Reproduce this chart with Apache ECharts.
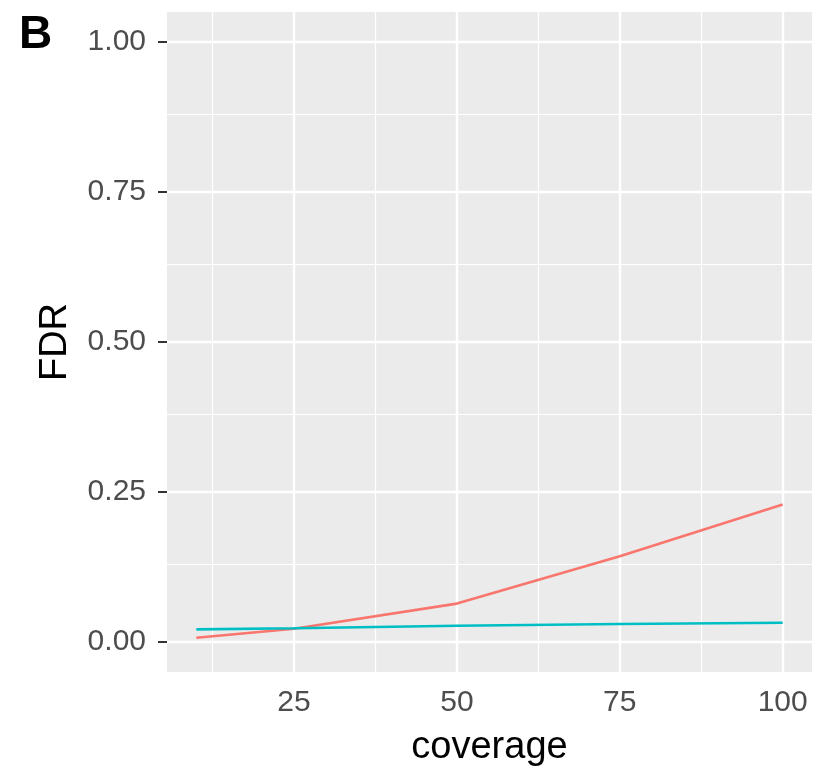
<!DOCTYPE html>
<html>
<head>
<meta charset="utf-8">
<script src="https://cdn.jsdelivr.net/npm/echarts@6/dist/echarts.min.js"></script>
<style>
  html, body { margin: 0; padding: 0; background: #fff; }
  #chart { width: 813px; height: 772px; }
</style>
</head>
<body>
<div id="chart"></div>
<script>
// data
const coverage = [10, 25, 50, 75, 100];
const fdrRed = [0.007, 0.022, 0.064, 0.143, 0.229];
const fdrTeal = [0.021, 0.023, 0.027, 0.030, 0.032];

// ggplot-like ticks and gridlines
const xTicks = [25, 50, 75, 100];
const xMinor = [12.5, 37.5, 62.5, 87.5];
const yTicks = [0, 0.25, 0.5, 0.75, 1];
const yMinor = [0.125, 0.375, 0.625, 0.875];

const chart = echarts.init(document.getElementById('chart'));

const pairs = (ys) => coverage.map((x, i) => [x, ys[i]]);

const gridLines = [
  ...xTicks.map(v => ({ xAxis: v, lineStyle: { width: 2.4 } })),
  ...xMinor.map(v => ({ xAxis: v, lineStyle: { width: 1.2 } })),
  ...yTicks.map(v => ({ yAxis: v, lineStyle: { width: 2.4 } })),
  ...yMinor.map(v => ({ yAxis: v, lineStyle: { width: 1.2 } }))
];

const font = 'Liberation Sans';

chart.setOption({
  animation: false,
  grid: {
    show: true,
    backgroundColor: '#EBEBEB',
    borderWidth: 0,
    left: 167,
    right: 1,
    top: 12,
    bottom: 99
  },
  xAxis: {
    type: 'value',
    min: 5.5,
    max: 104.5,
    name: 'coverage',
    nameLocation: 'middle',
    nameGap: 57,
    nameTextStyle: { fontFamily: font, fontSize: 38, color: '#000' },
    axisLine: { show: false },
    axisTick: { show: true, length: 9, customValues: xTicks, lineStyle: { color: '#333', width: 2 } },
    axisLabel: { customValues: xTicks, fontFamily: font, fontSize: 30, color: '#4D4D4D', margin: 16 },
    splitLine: { show: false }
  },
  yAxis: {
    type: 'value',
    min: -0.05,
    max: 1.05,
    name: 'FDR',
    nameLocation: 'middle',
    nameGap: 92,
    nameRotate: 90,
    nameTextStyle: { fontFamily: font, fontSize: 38, color: '#000' },
    axisLine: { show: false },
    axisTick: { show: true, length: 9, customValues: yTicks, lineStyle: { color: '#333', width: 2 } },
    axisLabel: {
      customValues: yTicks,
      fontFamily: font, fontSize: 30, color: '#4D4D4D', margin: 21,
      formatter: v => v.toFixed(2)
    },
    splitLine: { show: false }
  },
  graphic: [{
    type: 'text',
    left: 19,
    top: 12,
    style: { text: 'B', fontFamily: font, fontSize: 46, fontWeight: 'bold', fill: '#000' }
  }],
  series: [
    {
      name: 'red',
      type: 'line',
      data: pairs(fdrRed),
      showSymbol: false,
      z: 3,
      lineStyle: { color: '#F8766D', width: 2.6 },
      markLine: {
        silent: true,
        z: 1,
        symbol: ['none', 'none'],
        label: { show: false },
        lineStyle: { color: '#FFFFFF', type: 'solid' },
        data: gridLines
      }
    },
    {
      name: 'teal',
      type: 'line',
      data: pairs(fdrTeal),
      showSymbol: false,
      z: 3,
      lineStyle: { color: '#00BFC4', width: 2.6 }
    }
  ]
});
</script>
</body>
</html>
